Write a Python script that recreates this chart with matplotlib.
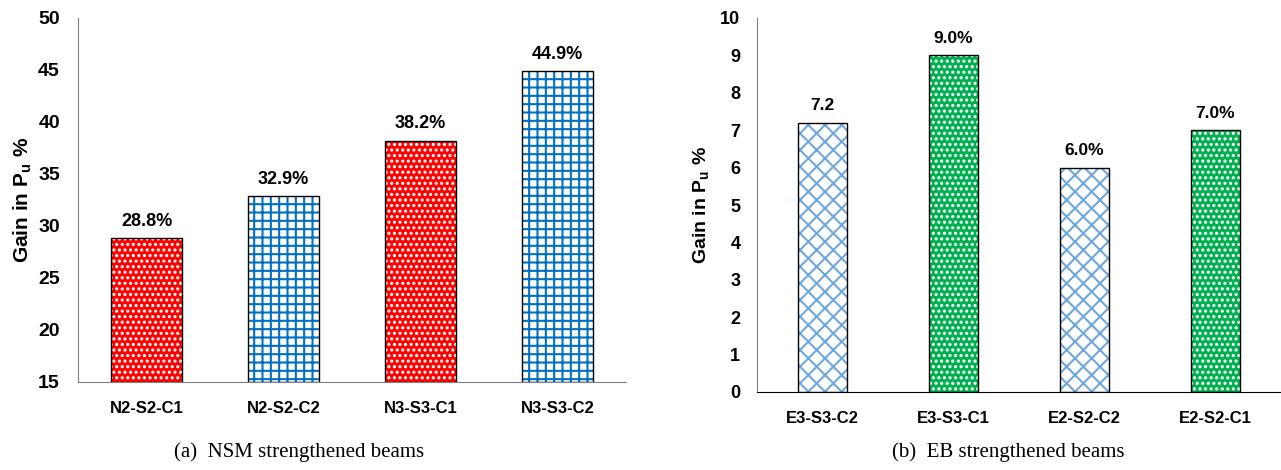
import matplotlib.pyplot as plt

# datos
nsm_labels = ['N2-S2-C1', 'N2-S2-C2', 'N3-S3-C1', 'N3-S3-C2']
nsm_gain = [28.8, 32.9, 38.2, 44.9]
nsm_text = ['28.8%', '32.9%', '38.2%', '44.9%']

eb_labels = ['E3-S3-C2', 'E3-S3-C1', 'E2-S2-C2', 'E2-S2-C1']
eb_gain = [7.2, 9.0, 6.0, 7.0]
eb_text = ['7.2', '9.0%', '6.0%', '7.0%']

plt.rcParams['font.family'] = ['Liberation Sans', 'DejaVu Sans']
plt.rcParams['mathtext.fontset'] = 'custom'
plt.rcParams['mathtext.bf'] = 'Liberation Sans:bold'
plt.rcParams['mathtext.rm'] = 'Liberation Sans'
plt.rcParams['hatch.linewidth'] = 1.5

fig = plt.figure(figsize=(12.81, 4.70), dpi=100)
W, H = 1281, 470
ax1 = fig.add_axes([78 / W, 1 - 382 / H, (626 - 78) / W, (382 - 18) / H])
ax2 = fig.add_axes([757 / W, 1 - 392 / H, (1281 - 757) / W, (392 - 18) / H])

x = range(4)

# panel (a)
styles_a = [('#FF0000', 'white', '...'), ('white', '#0070C0', '++'),
            ('#FF0000', 'white', '...'), ('white', '#0070C0', '++')]
for i in x:
    fc, hc, h = styles_a[i]
    ax1.bar(i, nsm_gain[i] - 15, bottom=15, width=0.52, color=fc,
            edgecolor=hc, hatch=h, linewidth=0)
    ax1.bar(i, nsm_gain[i] - 15, bottom=15, width=0.52, fill=False,
            edgecolor='black', linewidth=1)
    ax1.text(i, nsm_gain[i] + 0.8, nsm_text[i], ha='center', va='bottom',
             fontsize=13, fontweight='bold')
ax1.set_ylim(15, 50)
ax1.set_xlim(-0.5, 3.5)
ax1.set_yticks(range(15, 51, 5))
ax1.set_xticks(list(x))
ax1.set_xticklabels(nsm_labels)
ax1.set_ylabel('Gain in P$_\\mathbf{u}$ %', fontsize=15, fontweight='bold')
ax1.yaxis.set_label_coords(-0.080, 0.5)

# panel (b)
styles_b = [('white', '#6FA8DC', 'xx'), ('#00B050', 'white', '...'),
            ('white', '#6FA8DC', 'xx'), ('#00B050', 'white', '...')]
for i in x:
    fc, hc, h = styles_b[i]
    ax2.bar(i, eb_gain[i], width=0.37, color=fc, edgecolor=hc, hatch=h,
            linewidth=0)
    ax2.bar(i, eb_gain[i], width=0.37, fill=False, edgecolor='black',
            linewidth=1)
    ax2.text(i, eb_gain[i] + 0.25, eb_text[i], ha='center', va='bottom',
             fontsize=12.5, fontweight='bold')
ax2.set_ylim(0, 10)
ax2.set_xlim(-0.5, 3.5)
ax2.set_yticks(range(0, 11))
ax2.set_xticks(list(x))
ax2.set_xticklabels(eb_labels)
ax2.set_ylabel('Gain in P$_\\mathbf{u}$ %', fontsize=14, fontweight='bold')
ax2.yaxis.set_label_coords(-0.086, 0.5)

for ax, xc, ys, yp in [(ax1, '#808080', 14, 13), (ax2, 'black', 13, 12)]:
    ax.spines['top'].set_visible(False)
    ax.spines['right'].set_visible(False)
    ax.spines['left'].set_color('#808080')
    ax.spines['bottom'].set_color(xc)
    ax.tick_params(axis='y', length=0, pad=yp, labelsize=ys)
    ax.tick_params(axis='x', length=0, pad=14, labelsize=12)
    for t in ax.get_xticklabels() + ax.get_yticklabels():
        t.set_fontweight('bold')

fig.text(299 / W, 1 - 452 / H, '(a)  NSM strengthened beams', ha='center',
         va='center', fontsize=15, family=['Liberation Serif', 'DejaVu Serif'])
fig.text(1008 / W, 1 - 452 / H, '(b)  EB strengthened beams', ha='center',
         va='center', fontsize=15, family=['Liberation Serif', 'DejaVu Serif'])

fig.savefig('out.png', dpi=100)
